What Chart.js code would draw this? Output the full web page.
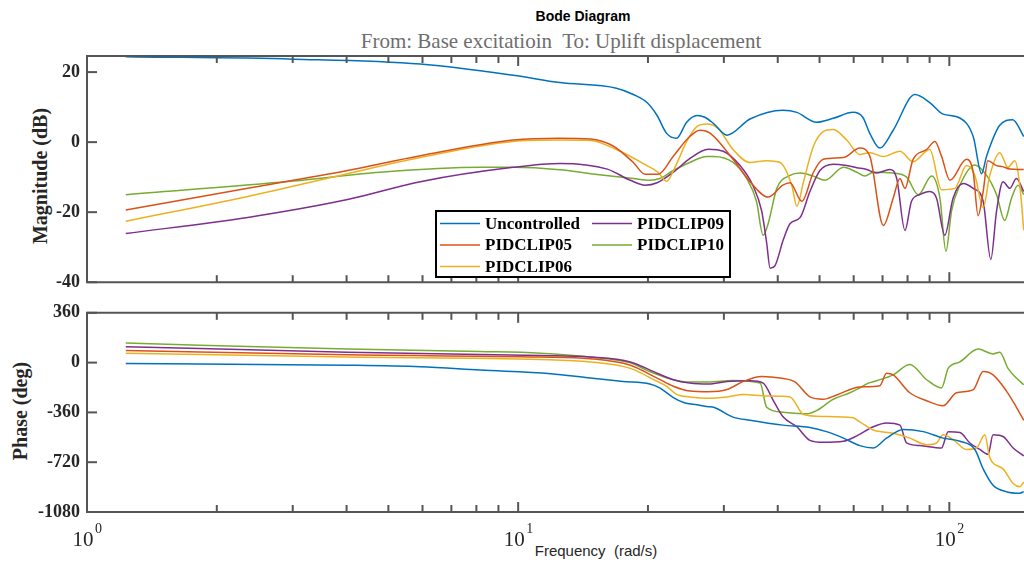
<!DOCTYPE html>
<html>
<head>
<meta charset="utf-8">
<script src="https://cdn.jsdelivr.net/npm/chart.js@4.4.1/dist/chart.umd.min.js"></script>
<style>
  body { margin: 0; background: #fff; width: 1024px; height: 562px; overflow: hidden; position: relative; }
  canvas { position: absolute; left: 0; }
  .txt { position: absolute; white-space: nowrap; transform: translateX(-50%); }
  .rot { position: absolute; white-space: nowrap; transform: translate(-50%, -50%) rotate(-90deg); }
</style>
</head>
<body>
<div class="txt" style="left:583px; top:8px; font: bold 14px 'Liberation Sans', Arial; color:#000;">Bode Diagram</div>
<div class="txt" style="left:561px; top:29px; font: 21px 'Liberation Serif', serif; color:#6e6e6e;">From: Base excitatioin&nbsp; To: Uplift displacement</div>
<div class="rot" style="left:40px; top:176px; font: bold 20px 'Liberation Serif', serif; color:#262626;">Magnitude (dB)</div>
<div class="rot" style="left:20px; top:411px; font: bold 20px 'Liberation Serif', serif; color:#262626;">Phase (deg)</div>
<div class="txt" style="left:596px; top:542px; font: 15px 'Liberation Sans', Arial; color:#262626;">Frequency&nbsp; (rad/s)</div>

<canvas id="mag" width="1024" height="300" style="top:0"></canvas>
<canvas id="phase" width="1024" height="267" style="top:295px"></canvas>

<script>
// series names and colours
const seriesNames = ["Uncontrolled", "PIDCLIP05", "PIDCLIP06", "PIDCLIP09", "PIDCLIP10"];
const seriesColors = ["#0072BD", "#D95319", "#EDB120", "#7E2F8E", "#77AC30"];

// tick labels
const magTicks = [20, 0, -20, -40];
const phaseTicks = [360, 0, -360, -720, -1080];
const freqDecades = [1, 10, 100];

// ---- magnitude (dB) vs frequency (rad/s) ----
const ucMagF = [1.23, 3.01, 5.93, 9.74, 12.5, 16.9, 18.5, 19.9, 21.0, 22.1, 23.3, 24.6, 26.0, 27.1, 28.4, 30.5, 34.5, 41.1, 44.3, 49.2, 53.8, 59.8, 63.0, 65.4, 69.0, 74.1, 83.2, 90.1, 96.7, 105.8, 113.6, 118.8, 122.0, 130.9, 140.3, 148.8];
const ucMag  = [24.4, 23.7, 22.3, 19.1, 17.0, 15.4, 13.6, 11.3, 7.6, 2.5, 1.1, 5.7, 7.6, 7.1, 5.3, 2.0, 6.6, 9.1, 8.5, 5.7, 6.8, 8.5, 7.1, 2.5, -1.7, 3.4, 13.6, 11.3, 8.0, 6.9, 1.6, -9.0, -4.0, 4.8, 6.4, 1.6];

const p05MagF = [1.23, 2.36, 4.02, 5.93, 9.74, 12.5, 14.7, 16.6, 18.5, 19.7, 21.1, 22.9, 25.0, 26.4, 27.9, 31.5, 34.5, 38.0, 41.1, 42.7, 45.5, 48.4, 51.0, 56.8, 62.0, 65.4, 70.3, 74.1, 76.8, 78.9, 82.4, 88.6, 92.6, 95.9, 100.3, 109.6, 113.6, 116.6, 119.8, 122.8, 128.7, 133.0, 138.1, 144.1, 148.8];
const p05Mag  = [-19.4, -13.2, -8.1, -3.9, 0.6, 1.1, 0.9, -1.1, -5.8, -9.2, -9.2, -4.0, 1.6, 3.4, 2.5, -4.9, -11.3, -15.7, -12.3, -11.6, -16.9, -8.6, -4.9, -4.4, -1.7, -4.0, -23.8, -16.0, -10.4, -13.2, -4.9, -2.1, 0.2, -4.0, -10.9, -4.9, -8.6, -21.0, -14.1, -5.3, -6.7, -7.0, -7.7, -7.8, -7.8];

const p06MagF = [1.23, 2.36, 4.02, 5.93, 9.74, 12.5, 14.7, 16.9, 19.9, 21.1, 22.1, 23.1, 24.6, 26.0, 27.4, 29.1, 31.5, 34.5, 37.7, 40.5, 43.1, 44.3, 45.9, 48.4, 51.0, 53.8, 57.8, 62.0, 65.4, 70.3, 76.8, 82.4, 90.1, 95.9, 103.0, 109.6, 114.6, 119.8, 124.1, 130.9, 136.8, 141.8, 145.7, 148.8];
const p06Mag  = [-22.6, -15.5, -9.0, -4.4, 0.2, 0.6, 0.5, -2.1, -6.7, -8.6, -11.2, -7.2, 0.2, 4.5, 5.2, 3.9, -2.1, -5.8, -5.3, -5.8, -12.3, -18.3, -11.3, -1.2, 3.0, 3.6, 0.6, -3.5, -3.0, -4.1, -2.6, -5.6, -2.1, -13.6, -13.2, -6.7, -9.5, -18.7, -9.5, -3.0, -7.2, -5.3, -12.3, -25.2];

const p09MagF = [1.23, 2.36, 4.02, 5.93, 9.74, 12.5, 16.1, 18.2, 19.7, 21.0, 22.9, 25.0, 27.6, 29.9, 32.7, 35.0, 36.7, 37.7, 38.4, 39.4, 41.2, 42.7, 45.1, 47.5, 50.1, 53.8, 57.8, 61.0, 64.3, 67.8, 72.8, 75.5, 78.9, 81.7, 85.4, 90.1, 93.4, 97.6, 102.0, 107.6, 113.6, 119.8, 124.8, 128.7, 133.2, 138.1, 143.1, 148.8];
const p09Mag  = [-26.1, -21.5, -16.4, -11.3, -7.2, -6.1, -7.7, -10.9, -12.3, -11.6, -8.6, -4.7, -2.0, -2.6, -6.7, -12.3, -19.6, -28.8, -36.0, -35.3, -27.9, -23.3, -21.5, -14.1, -8.1, -6.3, -6.7, -7.3, -7.8, -8.8, -7.8, -10.4, -25.2, -16.9, -15.0, -14.1, -16.0, -26.6, -16.0, -11.8, -13.2, -16.9, -33.5, -19.6, -11.3, -13.2, -10.4, -14.1];

const p10MagF = [1.23, 3.01, 4.79, 8.17, 9.74, 12.5, 14.7, 18.5, 20.2, 21.3, 22.9, 25.0, 27.4, 28.4, 31.5, 33.9, 35.7, 37.0, 38.0, 39.8, 42.7, 45.1, 48.4, 51.5, 56.8, 61.0, 63.7, 66.6, 74.1, 79.6, 84.7, 91.0, 95.1, 98.2, 101.2, 105.8, 114.6, 122.0, 128.7, 134.4, 139.4, 144.3, 148.8];
const p10Mag  = [-15.0, -11.1, -8.6, -7.2, -7.2, -7.9, -9.0, -10.4, -10.9, -10.4, -8.1, -5.8, -4.1, -4.1, -5.8, -10.4, -16.9, -26.6, -23.3, -13.2, -9.5, -8.8, -9.7, -10.9, -7.2, -8.6, -9.7, -8.6, -8.8, -10.0, -15.0, -9.7, -16.0, -31.2, -19.6, -12.3, -6.5, -9.5, -15.0, -22.4, -16.0, -12.3, -15.0];

// ---- phase (deg) vs frequency (rad/s) ----
const ucPhF = [1.23, 4.02, 5.93, 8.17, 11.9, 14.7, 17.5, 20.2, 21.3, 22.9, 24.2, 26.0, 27.6, 28.4, 31.5, 34.5, 41.1, 47.5, 51.9, 56.8, 62.0, 66.6, 71.5, 78.2, 87.0, 96.7, 105.8, 114.6, 119.8, 126.3, 135.7, 145.7, 148.8];
const ucPh  = [-7, -19, -30, -54, -80, -112, -136, -155, -183, -253, -288, -305, -319, -323, -394, -417, -452, -469, -499, -546, -600, -617, -546, -483, -499, -546, -569, -628, -768, -886, -933, -944, -933];

const p05PhF = [1.23, 4.02, 11.25, 14.7, 18.2, 21.0, 22.9, 25.0, 27.6, 30.5, 33.3, 36.7, 40.5, 43.9, 47.5, 51.0, 54.8, 62.0, 69.0, 71.5, 74.1, 81.0, 88.6, 96.7, 103.9, 113.6, 119.8, 126.3, 135.7, 143.1, 148.8];
const p05Ph  = [87, 56, 40, 28, -19, -112, -171, -206, -211, -195, -136, -101, -112, -141, -248, -265, -234, -176, -167, -77, -89, -218, -276, -312, -218, -195, -65, -89, -206, -323, -417];

const p06PhF = [1.23, 4.02, 11.25, 14.7, 18.2, 21.0, 22.1, 23.3, 25.0, 27.6, 30.5, 33.3, 37.7, 42.7, 45.9, 51.0, 59.8, 62.0, 66.6, 74.1, 81.0, 88.6, 93.4, 96.7, 102.0, 109.6, 115.6, 120.9, 124.1, 133.2, 140.6, 145.7, 148.8];
const p06Ph  = [68, 40, 23, 5, -42, -136, -171, -230, -248, -258, -248, -230, -241, -248, -375, -389, -399, -429, -487, -511, -546, -593, -581, -522, -557, -628, -617, -522, -687, -768, -874, -898, -863];

const p09PhF = [1.23, 4.02, 11.25, 14.7, 18.2, 21.0, 22.9, 25.0, 27.6, 30.5, 34.5, 37.0, 39.1, 41.2, 44.3, 47.5, 51.0, 56.8, 61.0, 66.6, 71.5, 76.8, 79.6, 85.4, 95.9, 99.4, 105.8, 111.6, 117.7, 123.0, 126.3, 133.2, 140.6, 148.8];
const p09Ph  = [115, 75, 51, 40, 5, -77, -124, -148, -155, -136, -131, -148, -276, -394, -464, -562, -576, -569, -530, -464, -436, -452, -581, -600, -617, -499, -506, -581, -628, -663, -522, -534, -617, -675];

const p10PhF = [1.23, 4.02, 8.17, 11.25, 14.7, 18.2, 20.2, 22.9, 25.0, 27.6, 31.5, 36.4, 37.7, 41.2, 46.7, 49.2, 53.8, 58.8, 62.0, 64.7, 67.8, 74.1, 81.0, 88.6, 95.9, 99.4, 105.8, 116.6, 126.3, 130.9, 136.8, 143.1, 148.8];
const p10Ph  = [141, 98, 80, 68, 40, -2, -65, -124, -141, -141, -129, -148, -323, -359, -370, -347, -265, -218, -183, -150, -131, -89, -14, -124, -183, -42, 5, 98, 63, 75, -42, -112, -160];

const magSeries = [[ucMagF, ucMag], [p05MagF, p05Mag], [p06MagF, p06Mag], [p09MagF, p09Mag], [p10MagF, p10Mag]];
const phaseSeries = [[ucPhF, ucPh], [p05PhF, p05Ph], [p06PhF, p06Ph], [p09PhF, p09Ph], [p10PhF, p10Ph]];

const axisGray = "#555555";

function makeSets(series) {
  return series.map(([f, v], i) => ({
    label: seriesNames[i],
    data: f.map((x, k) => ({ x: x, y: v[k] })),
    borderColor: seriesColors[i],
    borderWidth: 1.5,
    pointRadius: 0,
    fill: false,
    cubicInterpolationMode: "monotone"
  }));
}

// box + inward ticks like matlab axes
const frame = {
  id: "frame",
  afterDatasetsDraw(chart) {
    const { ctx, chartArea: a, scales: { x, y } } = chart;
    ctx.save();
    ctx.strokeStyle = axisGray;
    ctx.lineWidth = 2;
    const line = (x1, y1, x2, y2) => { ctx.beginPath(); ctx.moveTo(x1, y1); ctx.lineTo(x2, y2); ctx.stroke(); };
    ctx.beginPath();
    ctx.moveTo(a.right + 5, a.top);
    ctx.lineTo(a.left, a.top);
    ctx.lineTo(a.left, a.bottom);
    ctx.lineTo(a.right + 5, a.bottom);
    ctx.stroke();
    freqDecades.forEach(d => {
      for (let k = 1; k < 10; k++) {
        const v = d * k;
        if (v > x.max) break;
        const px = x.getPixelForValue(v);
        const len = k === 1 ? 10 : 7;
        line(px, a.top, px, a.top + len);
        line(px, a.bottom, px, a.bottom - len);
      }
    });
    y.ticks.forEach(t => {
      const py = y.getPixelForValue(t.value);
      line(a.left, py, a.left + 10, py);
    });
    ctx.restore();
  }
};

// two-column legend box inside the magnitude axes
const boxLegend = {
  id: "boxLegend",
  afterDraw(chart) {
    const ctx = chart.ctx;
    const left = 436, top = 211, w = 294, h = 66;
    const rows = [223.5, 245, 266.5];
    const cols = [440, 592];
    ctx.save();
    ctx.fillStyle = "#fff";
    ctx.fillRect(left, top, w, h);
    ctx.strokeStyle = "#000";
    ctx.lineWidth = 2;
    ctx.strokeRect(left, top, w, h);
    ctx.font = "bold 17px 'Liberation Serif', serif";
    ctx.textBaseline = "middle";
    chart.data.datasets.forEach((ds, i) => {
      const c = i < 3 ? 0 : 1;
      const r = i < 3 ? i : i - 3;
      const lx = cols[c], ly = rows[r];
      ctx.strokeStyle = ds.borderColor;
      ctx.lineWidth = 1.5;
      ctx.beginPath();
      ctx.moveTo(lx, ly);
      ctx.lineTo(lx + 40, ly);
      ctx.stroke();
      ctx.fillStyle = "#000";
      ctx.fillText(ds.label, lx + 45, ly + 1);
    });
    ctx.restore();
  }
};

// 10^n labels under the phase axes
const decadeLabels = {
  id: "decadeLabels",
  afterDraw(chart) {
    const { ctx, scales: { x } } = chart;
    ctx.save();
    ctx.fillStyle = "#262626";
    freqDecades.forEach((d, n) => {
      const px = x.getPixelForValue(d);
      ctx.font = "21px 'Liberation Serif', serif";
      ctx.textAlign = "center";
      ctx.textBaseline = "alphabetic";
      ctx.fillText("10", px - 4, 251);
      ctx.font = "14px 'Liberation Serif', serif";
      ctx.textAlign = "left";
      ctx.fillText(String(n), px + 8, 238);
    });
    ctx.restore();
  }
};

function bodeChart(id, series, yMin, yMax, ticks, pad, plugins) {
  return new Chart(document.getElementById(id), {
    type: "line",
    data: { datasets: makeSets(series) },
    options: {
      responsive: false,
      animation: false,
      layout: { padding: pad },
      plugins: { legend: { display: false }, tooltip: { enabled: false }, title: { display: false } },
      scales: {
        x: { type: "logarithmic", min: 1, max: 149, display: false },
        y: {
          min: yMin,
          max: yMax,
          afterBuildTicks: s => { s.ticks = ticks.map(v => ({ value: v })); },
          afterFit: s => { s.width = 87; },
          grid: { display: false, drawTicks: false },
          border: { display: false },
          ticks: {
            padding: 7,
            color: "#262626",
            font: { family: "'Liberation Serif', serif", weight: "bold", size: 18 },
            callback: v => String(v)
          }
        }
      }
    },
    plugins: plugins
  });
}

bodeChart("mag", magSeries, -40, 24.6, magTicks, { top: 56, bottom: 12, left: 0, right: 0 }, [frame, boxLegend]);
bodeChart("phase", phaseSeries, -1080, 360, phaseTicks, { top: 12, bottom: 50, left: 0, right: 0 }, [frame, decadeLabels]);
</script>
</body>
</html>
